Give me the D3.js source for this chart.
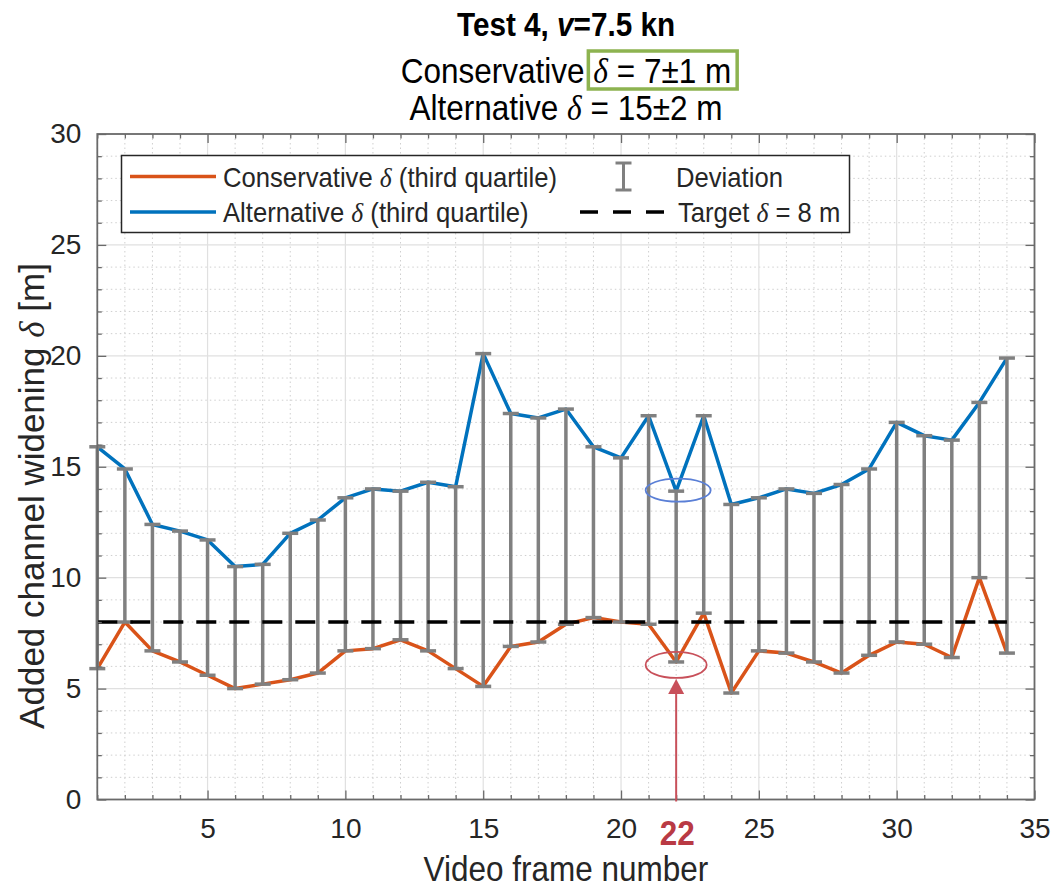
<!DOCTYPE html>
<html>
<head>
<meta charset="utf-8">
<script src="https://cdn.jsdelivr.net/npm/d3@7/dist/d3.min.js"></script>
<style>
  html, body { margin: 0; padding: 0; background: #fff; }
  svg { display: block; }
  text { font-family: "Liberation Sans", Arial, sans-serif; }
  .greek { font-family: "Liberation Serif", "DejaVu Serif", serif; font-style: italic; }
</style>
</head>
<body>
<svg id="chart" width="1057" height="889"></svg>
<script>
// ---------------- data ----------------
const frames = [1,2,3,4,5,6,7,8,9,10,11,12,13,14,15,16,17,18,19,20,21,22,23,24,25,26,27,28,29,30,31,32,33,34];
const conservative = [5.9,8.0,6.7,6.2,5.6,5.0,5.2,5.4,5.7,6.7,6.8,7.2,6.7,5.9,5.1,6.9,7.1,7.9,8.2,8.0,7.9,6.2,8.4,4.8,6.7,6.6,6.2,5.7,6.5,7.1,7.0,6.4,10.0,6.6];
const alternative = [15.9,14.9,12.4,12.1,11.7,10.5,10.6,12.0,12.6,13.6,14.0,13.9,14.3,14.1,20.1,17.4,17.2,17.6,15.9,15.4,17.3,13.9,17.3,13.3,13.6,14.0,13.8,14.2,14.9,17.0,16.4,16.2,17.9,19.9];
const target = 8;
const highlightFrame = 22;
const xTicks = [5,10,15,20,25,30,35];
const yTicks = [0,5,10,15,20,25,30];
const xMinor = [1,2,3,4,6,7,8,9,11,12,13,14,16,17,18,19,21,22,23,24,26,27,28,29,31,32,33,34];
const yMinor = [1,2,3,4,6,7,8,9,11,12,13,14,16,17,18,19,21,22,23,24,26,27,28,29];

// ---------------- layout ----------------
const svg = d3.select("#chart");
const L = 97.3, R = 1034.5, T = 134, B = 799.5;
const x = d3.scaleLinear().domain([1, 35]).range([L, R]);
const y = d3.scaleLinear().domain([0, 30]).range([B, T]);

const COL_CONS = "#D95319", COL_ALT = "#0072BD", COL_ERR = "#808080";
const AXIS_COL = "#6a6a6a", TXT = "#262626";
const SX = 0.9; // horizontal squeeze of the reference typography

// ---------------- grid ----------------
const grid = svg.append("g");
grid.selectAll(".vminor").data(xMinor).join("line")
  .attr("x1", d => x(d)).attr("x2", d => x(d)).attr("y1", T).attr("y2", B)
  .attr("stroke", "#cfcfcf").attr("stroke-width", 1).attr("stroke-dasharray", "1.5,3");
grid.selectAll(".hminor").data(yMinor).join("line")
  .attr("y1", d => y(d)).attr("y2", d => y(d)).attr("x1", L).attr("x2", R)
  .attr("stroke", "#cfcfcf").attr("stroke-width", 1).attr("stroke-dasharray", "1.5,3");
grid.selectAll(".vmajor").data(xTicks).join("line")
  .attr("x1", d => x(d)).attr("x2", d => x(d)).attr("y1", T).attr("y2", B)
  .attr("stroke", "#e0e0e0").attr("stroke-width", 1.2);
grid.selectAll(".hmajor").data(yTicks).join("line")
  .attr("y1", d => y(d)).attr("y2", d => y(d)).attr("x1", L).attr("x2", R)
  .attr("stroke", "#e0e0e0").attr("stroke-width", 1.2);

// ---------------- series ----------------
const pts = frames.map((f, i) => ({ f, c: conservative[i], a: alternative[i] }));
const lineC = d3.line().x(d => x(d.f)).y(d => y(d.c));
const lineA = d3.line().x(d => x(d.f)).y(d => y(d.a));
svg.append("path").datum(pts).attr("d", lineC).attr("fill", "none")
  .attr("stroke", COL_CONS).attr("stroke-width", 3.5).attr("stroke-linejoin", "round");
svg.append("path").datum(pts).attr("d", lineA).attr("fill", "none")
  .attr("stroke", COL_ALT).attr("stroke-width", 3.5).attr("stroke-linejoin", "round");

// error bars (deviation)
const eb = svg.append("g").attr("stroke", COL_ERR).attr("stroke-width", 3.5);
eb.selectAll(".v").data(pts).join("line")
  .attr("x1", d => x(d.f)).attr("x2", d => x(d.f)).attr("y1", d => y(d.c)).attr("y2", d => y(d.a));
const cap = 8;
eb.selectAll(".ct").data(pts).join("line")
  .attr("x1", d => x(d.f) - cap).attr("x2", d => x(d.f) + cap).attr("y1", d => y(d.a)).attr("y2", d => y(d.a));
eb.selectAll(".cb").data(pts).join("line")
  .attr("x1", d => x(d.f) - cap).attr("x2", d => x(d.f) + cap).attr("y1", d => y(d.c)).attr("y2", d => y(d.c));

// target dashed line
svg.append("line").attr("x1", x(frames[0])).attr("x2", x(frames[frames.length - 1]))
  .attr("y1", y(target)).attr("y2", y(target))
  .attr("stroke", "#000").attr("stroke-width", 3.5).attr("stroke-dasharray", "20,13");

// ---------------- axes ----------------
function styleAxis(g) {
  g.select(".domain").remove();
  g.selectAll(".tick line").attr("stroke", AXIS_COL).attr("stroke-width", 1.3);
  g.selectAll(".tick text").attr("fill", TXT).style("font-size", "28px")
    .style("font-family", '"Liberation Sans", Arial, sans-serif');
}
svg.append("g").attr("transform", `translate(0,${B})`)
  .call(d3.axisBottom(x).tickValues(xTicks).tickSize(-9).tickPadding(19).tickFormat(d3.format("d")))
  .call(styleAxis);
svg.append("g").attr("transform", `translate(0,${B})`)
  .call(d3.axisBottom(x).tickValues(xMinor).tickSize(-4.5).tickFormat(""))
  .call(styleAxis);
svg.append("g").attr("transform", `translate(0,${T})`)
  .call(d3.axisTop(x).tickValues(xTicks).tickSize(-9).tickFormat(""))
  .call(styleAxis);
svg.append("g").attr("transform", `translate(0,${T})`)
  .call(d3.axisTop(x).tickValues(xMinor).tickSize(-4.5).tickFormat(""))
  .call(styleAxis);
svg.append("g").attr("transform", `translate(${L},0)`)
  .call(d3.axisLeft(y).tickValues(yTicks).tickSize(-9).tickPadding(16).tickFormat(d3.format("d")))
  .call(styleAxis);
svg.append("g").attr("transform", `translate(${L},0)`)
  .call(d3.axisLeft(y).tickValues(yMinor).tickSize(-4.5).tickFormat(""))
  .call(styleAxis);
svg.append("g").attr("transform", `translate(${R},0)`)
  .call(d3.axisRight(y).tickValues(yTicks).tickSize(-9).tickFormat(""))
  .call(styleAxis);
svg.append("g").attr("transform", `translate(${R},0)`)
  .call(d3.axisRight(y).tickValues(yMinor).tickSize(-4.5).tickFormat(""))
  .call(styleAxis);
svg.append("rect").attr("x", L).attr("y", T).attr("width", R - L).attr("height", B - T)
  .attr("fill", "none").attr("stroke", AXIS_COL).attr("stroke-width", 1.8);

// ---------------- annotations ----------------
const hi = frames.indexOf(highlightFrame);
const ANN_RED = "#c8505a";
svg.append("ellipse").attr("cx", x(highlightFrame) + 2).attr("cy", y(alternative[hi]) - 1)
  .attr("rx", 32.5).attr("ry", 11.5).attr("fill", "none").attr("stroke", "#5a7fd6").attr("stroke-width", 1.8);
svg.append("ellipse").attr("cx", x(highlightFrame)).attr("cy", y(conservative[hi]) + 3)
  .attr("rx", 30.5).attr("ry", 13).attr("fill", "none").attr("stroke", ANN_RED).attr("stroke-width", 1.8);
const tipY = y(conservative[hi]) + 17;
svg.append("line").attr("x1", x(highlightFrame)).attr("x2", x(highlightFrame))
  .attr("y1", tipY + 12).attr("y2", B + 2).attr("stroke", ANN_RED).attr("stroke-width", 2);
svg.append("path")
  .attr("d", `M${x(highlightFrame)},${tipY} L${x(highlightFrame) - 8},${tipY + 15} L${x(highlightFrame) + 8},${tipY + 15} Z`)
  .attr("fill", ANN_RED);
svg.append("text").attr("transform", `translate(${x(highlightFrame) + 1},845) scale(${SX},1)`)
  .attr("text-anchor", "middle")
  .attr("fill", "#b93a44").style("font-size", "35px").style("font-weight", "bold").text(String(highlightFrame));

// ---------------- axis labels ----------------
svg.append("text").attr("transform", `translate(${(L + R) / 2},881) scale(${SX},1)`).attr("text-anchor", "middle")
  .attr("fill", TXT).style("font-size", "35px").text("Video frame number");
const yl = svg.append("text").attr("transform", `translate(44,496) rotate(-90)`)
  .attr("text-anchor", "middle").attr("fill", TXT).style("font-size", "35px");
yl.append("tspan").text("Added channel widening ");
yl.append("tspan").attr("class", "greek").text("δ");
yl.append("tspan").text(" [m]");

// ---------------- titles ----------------
const CX = 566;
const t1 = svg.append("text").attr("transform", `translate(${CX},36) scale(${SX},1)`).attr("text-anchor", "middle")
  .attr("fill", "#000").style("font-size", "33px").style("font-weight", "bold");
t1.append("tspan").text("Test 4, ");
t1.append("tspan").style("font-style", "italic").text("v");
t1.append("tspan").text("=7.5 kn");

const t2 = svg.append("text").attr("transform", `translate(${CX},83) scale(${SX},1)`).attr("text-anchor", "middle")
  .attr("fill", "#000").style("font-size", "35px");
t2.append("tspan").text("Conservative ");
t2.append("tspan").attr("class", "greek").text("δ");
t2.append("tspan").text(" = 7±1 m");

const t3 = svg.append("text").attr("transform", `translate(${CX},120) scale(${SX},1)`).attr("text-anchor", "middle")
  .attr("fill", "#000").style("font-size", "35px");
t3.append("tspan").text("Alternative ");
t3.append("tspan").attr("class", "greek").text("δ");
t3.append("tspan").text(" = 15±2 m");

// green highlight box around "δ = 7±1 m"
{
  const node = t2.node();
  const full = node.textContent;
  const iD = full.indexOf("δ");
  const sx = CX + SX * node.getStartPositionOfChar(iD).x;
  const ex = CX + SX * node.getEndPositionOfChar(full.length - 1).x;
  svg.append("rect").attr("x", sx - 5).attr("y", 51).attr("width", ex - sx + 11).attr("height", 38)
    .attr("fill", "none").attr("stroke", "#8db350").attr("stroke-width", 3.5);
}

// ---------------- legend ----------------
const lg = svg.append("g");
lg.append("rect").attr("x", 121.5).attr("y", 155.5).attr("width", 728).attr("height", 77)
  .attr("fill", "#fff").attr("stroke", "#262626").attr("stroke-width", 1.5);
const row1 = 176.5, row2 = 212;
lg.append("line").attr("x1", 130).attr("x2", 216).attr("y1", row1).attr("y2", row1)
  .attr("stroke", COL_CONS).attr("stroke-width", 3.5);
lg.append("line").attr("x1", 130).attr("x2", 216).attr("y1", row2).attr("y2", row2)
  .attr("stroke", COL_ALT).attr("stroke-width", 3.5);
function legText(xp, yp, parts) {
  const t = lg.append("text").attr("transform", `translate(${xp},${yp}) scale(0.95,1)`)
    .attr("fill", TXT).style("font-size", "27px");
  parts.forEach(p => {
    const s = t.append("tspan").text(p[0]);
    if (p[1]) s.attr("class", "greek");
  });
}
legText(223, row1 + 10, [["Conservative "], ["δ", 1], [" (third quartile)"]]);
legText(223, row2 + 9.5, [["Alternative "], ["δ", 1], [" (third quartile)"]]);
// deviation icon
const ix = 623.5;
lg.append("line").attr("x1", ix).attr("x2", ix).attr("y1", 163).attr("y2", 190).attr("stroke", COL_ERR).attr("stroke-width", 3);
lg.append("line").attr("x1", ix - 8).attr("x2", ix + 8).attr("y1", 163).attr("y2", 163).attr("stroke", COL_ERR).attr("stroke-width", 3);
lg.append("line").attr("x1", ix - 8).attr("x2", ix + 8).attr("y1", 190).attr("y2", 190).attr("stroke", COL_ERR).attr("stroke-width", 3);
legText(676, row1 + 10, [["Deviation"]]);
lg.append("line").attr("x1", 580).attr("x2", 664).attr("y1", row2).attr("y2", row2)
  .attr("stroke", "#000").attr("stroke-width", 3.5).attr("stroke-dasharray", "18,15");
legText(678, row2 + 9.5, [["Target "], ["δ", 1], [" = 8 m"]]);
</script>
</body>
</html>
